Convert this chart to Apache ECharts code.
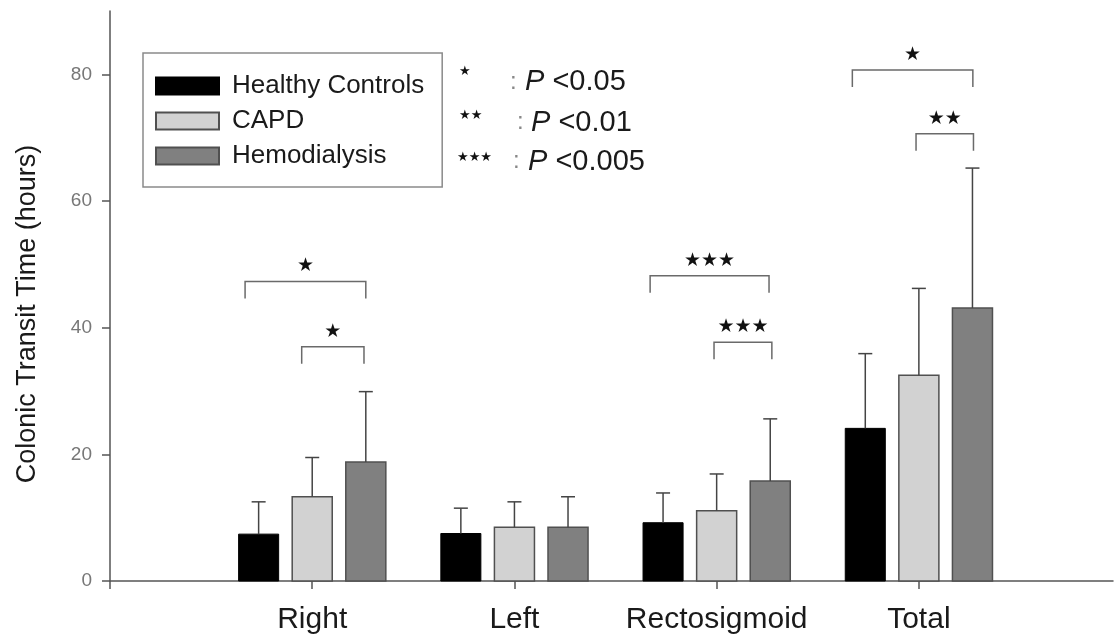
<!DOCTYPE html>
<html>
<head>
<meta charset="utf-8">
<script src="https://cdn.jsdelivr.net/npm/echarts@6/dist/echarts.min.js"></script>
<style>
  html, body { margin: 0; padding: 0; background: #fff; }
  #chart { width: 1115px; height: 638px; }
</style>
</head>
<body>
<div id="chart"></div>
<script>
// ---------- data ----------
const categories = ['Right', 'Left', 'Rectosigmoid', 'Total'];
const seriesNames = ['Healthy Controls', 'CAPD', 'Hemodialysis'];
const healthyMean = [7.4, 7.5, 9.2, 24.1];
const healthySD   = [5.1, 4.0, 4.7, 11.8];
const capdMean    = [13.3, 8.5, 11.1, 32.5];
const capdSD      = [6.2, 4.0, 5.8, 13.7];
const hemoMean    = [18.8, 8.5, 15.8, 43.1];
const hemoSD      = [11.1, 4.8, 9.8, 22.1];
const yTicks = [0, 20, 40, 60, 80];
// significance brackets (x in category units, level in hours)
const bracketStart = [0.668, 0.948, 2.671, 2.987, 3.671, 3.986];
const bracketEnd   = [1.265, 1.256, 3.259, 3.273, 4.267, 4.270];
const bracketLevel = [47.3, 37.0, 48.2, 37.7, 80.7, 70.6];
const bracketMarks = ['*', '*', '***', '***', '*', '**'];
const pMarks  = ['*', '**', '***'];
const pLabels = ['<0.05', '<0.01', '<0.005'];

// ---------- styles ----------
const FONT = 'Liberation Sans, Arial, sans-serif';
const barStyles = [
  { color: '#000000', borderColor: '#000000', borderWidth: 1 },
  { color: '#d2d2d2', borderColor: '#505050', borderWidth: 1.5 },
  { color: '#808080', borderColor: '#505050', borderWidth: 1.5 }
];
const offsets = [-0.265, 0, 0.265];
const BAR_W = 0.198;

function barRender(idx) {
  return function (params, api) {
    const x = api.value(0) + offsets[idx];
    const v = api.value(1);
    const sd = api.value(2);
    const tl = api.coord([x - BAR_W / 2, v]);
    const br = api.coord([x + BAR_W / 2, 0]);
    const top = api.coord([x, v]);
    const cap = api.coord([x, v + sd]);
    const st = barStyles[idx];
    return {
      type: 'group',
      children: [
        { type: 'rect', shape: { x: tl[0], y: tl[1], width: br[0] - tl[0], height: br[1] - tl[1] },
          style: { fill: st.color, stroke: st.borderColor, lineWidth: st.borderWidth } },
        { type: 'line', shape: { x1: cap[0], y1: top[1], x2: cap[0], y2: cap[1] },
          style: { stroke: '#444', lineWidth: 1.5 } },
        { type: 'line', shape: { x1: cap[0] - 7, y1: cap[1], x2: cap[0] + 7, y2: cap[1] },
          style: { stroke: '#444', lineWidth: 1.5 } }
      ]
    };
  };
}

function makeData(means, sds) {
  return means.map((m, i) => [i + 1, m, sds[i]]);
}

const allMeans = [healthyMean, capdMean, hemoMean];
const allSDs = [healthySD, capdSD, hemoSD];

const barSeries = seriesNames.map((name, k) => ({
  name: name,
  type: 'custom',
  renderItem: barRender(k),
  data: makeData(allMeans[k], allSDs[k]),
  encode: { x: 0, y: 1 },
  itemStyle: barStyles[k],
  clip: false,
  silent: true
}));

const bracketData = bracketStart.map((s, i) => [s, bracketEnd[i], bracketLevel[i], i]);
const bracketSeries = {
  name: 'brackets',
  type: 'custom',
  data: bracketData,
  encode: { x: [0, 1], y: 2 },
  clip: false,
  silent: true,
  renderItem: function (params, api) {
    const x1 = api.value(0), x2 = api.value(1), lv = api.value(2), idx = api.value(3);
    const p1 = api.coord([x1, lv]);
    const p2 = api.coord([x2, lv]);
    const drop = 17;
    const mark = bracketMarks[idx].replace(/\*/g, '★');
    return {
      type: 'group',
      children: [
        { type: 'polyline',
          shape: { points: [[p1[0], p1[1] + drop], [p1[0], p1[1]], [p2[0], p2[1]], [p2[0], p2[1] + drop]] },
          style: { stroke: '#6a6a6a', lineWidth: 1.5, fill: null } },
        { type: 'text',
          style: { x: (p1[0] + p2[0]) / 2, y: p1[1] - 15, text: mark, align: 'center', verticalAlign: 'middle',
                   fontSize: 19, fontFamily: 'DejaVu Sans', fill: '#111' } }
      ]
    };
  }
};

// p-value key (graphic annotations)
const pRowY = [82, 122.5, 161.7];
const pStarY = [72, 116, 158];
const pStarX = [459, 459, 457];
const pColonX = [510, 517, 513];
const pTextX = [525, 531, 528];
const pGraphics = [];
pMarks.forEach((m, i) => {
  pGraphics.push({ type: 'text', x: pStarX[i], y: pStarY[i],
    style: { text: m.replace(/\*/g, '★'), fontSize: 13, fontFamily: 'DejaVu Sans', fill: '#111', verticalAlign: 'middle', align: 'left' } });
  pGraphics.push({ type: 'text', x: pColonX[i], y: pRowY[i],
    style: { text: ':', fontSize: 24, fontFamily: FONT, fill: '#888', verticalAlign: 'middle', align: 'left' } });
  pGraphics.push({ type: 'text', x: pTextX[i], y: pRowY[i],
    style: { text: '{i|P} ' + pLabels[i], fontSize: 29, fontFamily: FONT, fill: '#1a1a1a', verticalAlign: 'middle', align: 'left',
             rich: { i: { fontStyle: 'italic', fontSize: 29, fontFamily: FONT, fill: '#1a1a1a' } } } });
});

const chart = echarts.init(document.getElementById('chart'));
chart.setOption({
  animation: false,
  backgroundColor: '#ffffff',
  textStyle: { fontFamily: FONT },
  grid: { left: 110, right: 2, top: 11, bottom: 57 },
  legend: {
    data: seriesNames,
    orient: 'vertical',
    left: 143, top: 53,
    padding: [20, 18, 18, 12],
    borderColor: '#8a8a8a', borderWidth: 1.5,
    itemWidth: 63, itemHeight: 17, itemGap: 9,
    icon: 'rect',
    selectedMode: false,
    textStyle: { fontSize: 26, color: '#1a1a1a', fontFamily: FONT, padding: [0, 0, 0, 8] }
  },
  xAxis: {
    type: 'value', min: 0, max: 4.96,
    axisLine: { show: true, lineStyle: { color: '#555', width: 1.5 } },
    axisTick: { show: true, length: 8, customValues: [0, 1, 2, 3, 4], lineStyle: { color: '#555', width: 1.5 } },
    axisLabel: { customValues: [1, 2, 3, 4], formatter: v => categories[Math.round(v) - 1] || '',
                 fontSize: 30, color: '#1a1a1a', margin: 24, fontFamily: FONT },
    splitLine: { show: false }
  },
  yAxis: {
    type: 'value', min: 0, max: 90,
    axisLine: { show: true, lineStyle: { color: '#555', width: 1.5 } },
    axisTick: { show: true, length: 8, customValues: yTicks, lineStyle: { color: '#555', width: 1.5 } },
    axisLabel: { customValues: yTicks, fontSize: 19, color: '#777', margin: 18, fontFamily: FONT },
    splitLine: { show: false }
  },
  graphic: [
    { type: 'text', x: 28, y: 314, rotation: Math.PI / 2,
      style: { text: 'Colonic Transit Time (hours)', fontSize: 27, fontFamily: FONT, fill: '#1a1a1a', align: 'center', verticalAlign: 'middle' } }
  ].concat(pGraphics),
  series: barSeries.concat([bracketSeries])
});
</script>
</body>
</html>
